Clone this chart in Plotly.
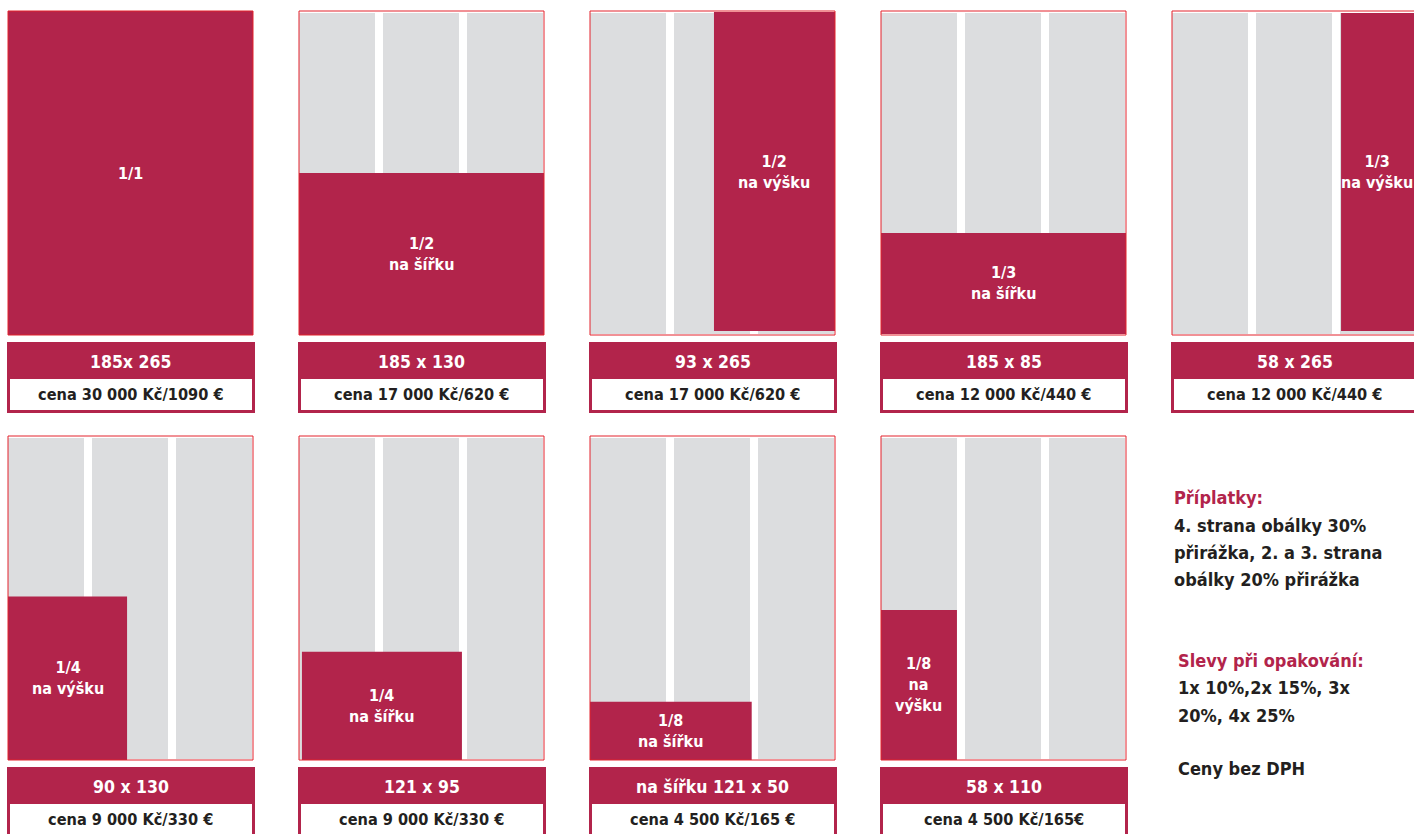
import plotly.graph_objects as go

# ---------------- data ----------------
fractions = ["1/1", "1/2<br>na šířku", "1/2<br>na výšku", "1/3<br>na šířku", "1/3<br>na výšku",
             "1/4<br>na výšku", "1/4<br>na šířku", "1/8<br>na šířku", "1/8<br>na<br>výšku"]
sizes = ["185x 265", "185 x 130", "93 x 265", "185 x 85", "58 x 265",
         "90 x 130", "121 x 95", "na šířku 121 x 50", "58 x 110"]
prices = ["cena 30 000 Kč/1090 €", "cena 17 000 Kč/620 €", "cena 17 000 Kč/620 €",
          "cena 12 000 Kč/440 €", "cena 12 000 Kč/440 €", "cena 9 000 Kč/330 €",
          "cena 9 000 Kč/330 €", "cena 4 500 Kč/165 €", "cena 4 500 Kč/165€"]
# ad block extent as fraction of the page (left, right, top, bottom)
block_left = [0.0, 0.0, 0.506, 0.0, 0.69, 0.0, 0.012, 0.0, 0.0]
block_right = [1.0, 1.0, 1.0, 1.0, 1.0, 0.486, 0.665, 0.66, 0.31]
block_top = [0.0, 0.5, 0.003, 0.685, 0.006, 0.495, 0.666, 0.82, 0.537]
block_bottom = [1.0, 1.0, 0.988, 0.997, 0.988, 1.0, 1.0, 1.0, 1.0]

surcharge_head = "Příplatky:"
surcharge_lines = ["4. strana obálky 30%", "přirážka, 2. a 3. strana", "obálky 20% přirážka"]
discount_head = "Slevy při opakování:"
discount_lines = ["1x 10%,2x 15%, 3x", "20%, 4x 25%"]
note_line = "Ceny bez DPH"

# ---------------- style / layout ----------------
CRIMSON = "#B2244B"
GRAY = "#DCDDDF"
BORDER = "#E3222C"
DARK = "#231F20"
FONT = "DejaVu Sans Condensed, DejaVu Sans, sans-serif"
W, H = 1414, 834
PAGE_W, PAGE_H = 245, 324
COL_W, GAP = 76, 8
GRID_X0, GRID_DX = 8, 291
GRID_Y0, GRID_DY = 11, 425
PER_ROW = 5
BAR_OFF, HDR_H, BAR_H, FRAME = 7, 37, 71, 3
EDGE_PAD = 37  # keep centred labels inside the picture

shapes = []
annotations = []


def rect(x0, y0, x1, y1, fill=None, line=None, lw=0):
    shapes.append(dict(type="rect", xref="x", yref="y", x0=x0, x1=x1, y0=y0, y1=y1,
                       fillcolor=fill if fill else "rgba(0,0,0,0)",
                       line=dict(color=line if line else "rgba(0,0,0,0)", width=lw),
                       layer="above"))


def text(x, y, s, color, size, xanchor="center"):
    annotations.append(dict(x=x, y=y, xref="x", yref="y", text="<b>" + s + "</b>",
                            showarrow=False, xanchor=xanchor, yanchor="middle",
                            font=dict(family=FONT, size=size, color=color)))


for i in range(len(sizes)):
    r, c = divmod(i, PER_ROW)
    x0 = GRID_X0 + c * GRID_DX
    y0 = GRID_Y0 + r * GRID_DY
    # gray columns
    for k in range(3):
        cx = x0 + k * (COL_W + GAP)
        rect(cx, y0 + 2, cx + COL_W, y0 + PAGE_H - 1, fill=GRAY)
    # ad block
    bx0 = x0 + block_left[i] * PAGE_W
    bx1 = x0 + block_right[i] * PAGE_W
    by0 = y0 + block_top[i] * PAGE_H
    by1 = y0 + block_bottom[i] * PAGE_H
    rect(bx0, by0, bx1, by1, fill=CRIMSON)
    # page outline
    rect(x0, y0, x0 + PAGE_W, y0 + PAGE_H, line=BORDER, lw=1)
    text(min((bx0 + bx1) / 2, W - EDGE_PAD), (by0 + by1) / 2, fractions[i], "white", 16)
    # label bar
    ly0 = y0 + PAGE_H + BAR_OFF
    rect(x0 - 1, ly0, x0 + PAGE_W + 2, ly0 + BAR_H, fill=CRIMSON)
    rect(x0 + 2, ly0 + HDR_H, x0 + PAGE_W - 1, ly0 + BAR_H - FRAME, fill="white")
    text(x0 + PAGE_W / 2, ly0 + HDR_H / 2 + 1, sizes[i], "white", 17.5)
    text(x0 + PAGE_W / 2, ly0 + HDR_H + (BAR_H - FRAME - HDR_H) / 2, prices[i], DARK, 16.2)

# info text block
TX = 1172
text(TX, 497, surcharge_head, CRIMSON, 18, "left")
for j, s in enumerate(surcharge_lines):
    text(TX, 525 + 27 * j, s, DARK, 18, "left")
text(TX + 4, 660, discount_head, CRIMSON, 18, "left")
for j, s in enumerate(discount_lines):
    text(TX + 4, 687 + 28 * j, s, DARK, 18, "left")
text(TX + 4, 768, note_line, DARK, 18, "left")

fig = go.Figure()
fig.add_trace(go.Scatter(x=[0, W], y=[0, H], mode="markers", marker=dict(opacity=0),
                         hoverinfo="skip", showlegend=False))
fig.update_layout(width=W, height=H, margin=dict(l=0, r=0, t=0, b=0),
                  paper_bgcolor="white", plot_bgcolor="white",
                  shapes=shapes, annotations=annotations, showlegend=False)
fig.update_xaxes(range=[0, W], visible=False, fixedrange=True)
fig.update_yaxes(range=[H, 0], visible=False, fixedrange=True)
fig.write_html("out.html", config={"displayModeBar": False, "staticPlot": True},
               post_script="document.body.style.margin='0';document.body.style.overflow='hidden';")
